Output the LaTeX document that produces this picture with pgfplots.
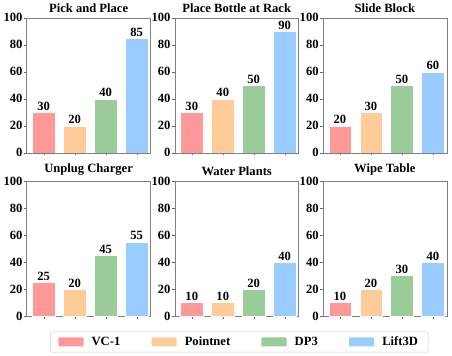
\documentclass[border=0pt]{standalone}
\usepackage{fontspec}
\setmainfont{Liberation Serif}
\usepackage{pgfplots}
\pgfplotsset{compat=1.18}
\usepgfplotslibrary{groupplots}

\definecolor{cvc}{RGB}{255,153,153}
\definecolor{cpn}{RGB}{255,204,153}
\definecolor{cdp}{RGB}{153,204,153}
\definecolor{clift}{RGB}{153,204,255}

\pgfplotsset{
  panel/.style={
    scale only axis, width=123pt, height=134pt,
    xmin=-0.55, xmax=3.45, ymin=0, ymax=100,
    ytick={0,20,...,100}, xtick={0,1,2,3}, xticklabels={},
    tick align=outside, major tick length=2.5pt,
    xtick pos=bottom, ytick pos=left,
    axis line style={gray}, tick style={gray!80!black},
    /pgf/number format/assume math mode=true,
    ticklabel style={font=\fontsize{12.5}{12}\selectfont\bfseries},
    yticklabel style={inner xsep=1.5pt},
    title style={font=\fontsize{12.5}{12}\selectfont\bfseries, yshift=-4pt},
    ybar, bar width=0.72, bar shift=0pt,
    every axis plot/.append style={draw=white, line width=0.4pt},
    every axis plot post/.append style={legend image code/.code={\fill[##1,draw=none] (0pt,-4.5pt) rectangle (25pt,4.5pt);}},
    nodes near coords,
    nodes near coords style={font=\fontsize{12.5}{12}\selectfont\bfseries, text=black, inner sep=1.5pt},
  },
}

\begin{document}
\begin{tikzpicture}
\begin{groupplot}[group style={group size=3 by 2, horizontal sep=24pt, vertical sep=28pt}, panel]
\nextgroupplot[title={Pick and Place}]
\addplot[fill=cvc] coordinates {(0,30)};
\addplot[fill=cpn] coordinates {(1,20)};
\addplot[fill=cdp] coordinates {(2,40)};
\addplot[fill=clift] coordinates {(3,85)};
\nextgroupplot[title={Place Bottle at Rack}]
\addplot[fill=cvc] coordinates {(0,30)};
\addplot[fill=cpn] coordinates {(1,40)};
\addplot[fill=cdp] coordinates {(2,50)};
\addplot[fill=clift] coordinates {(3,90)};
\nextgroupplot[title={Slide Block}]
\addplot[fill=cvc] coordinates {(0,20)};
\addplot[fill=cpn] coordinates {(1,30)};
\addplot[fill=cdp] coordinates {(2,50)};
\addplot[fill=clift] coordinates {(3,60)};
\nextgroupplot[title={Unplug Charger}]
\addplot[fill=cvc] coordinates {(0,25)};
\addplot[fill=cpn] coordinates {(1,20)};
\addplot[fill=cdp] coordinates {(2,45)};
\addplot[fill=clift] coordinates {(3,55)};
\nextgroupplot[title={Water Plants},
  legend columns=4,
  legend style={at={(0.52,-0.115)}, anchor=north, draw=gray!40, rounded corners=1pt,
    font=\fontsize{12.5}{12}\selectfont\bfseries, inner xsep=8pt, inner ysep=3pt,
    /tikz/every odd column/.append style={column sep=6pt},
    /tikz/every even column/.append style={column sep=29pt}},
  legend cell align=left]
\addplot[fill=cvc] coordinates {(0,10)};
\addplot[fill=cpn] coordinates {(1,10)};
\addplot[fill=cdp] coordinates {(2,20)};
\addplot[fill=clift] coordinates {(3,40)};
\legend{VC-1, Pointnet, DP3, Lift3D}
\nextgroupplot[title={Wipe Table}]
\addplot[fill=cvc] coordinates {(0,10)};
\addplot[fill=cpn] coordinates {(1,20)};
\addplot[fill=cdp] coordinates {(2,30)};
\addplot[fill=clift] coordinates {(3,40)};
\end{groupplot}
\path ([shift={(5pt,-3pt)}]current bounding box.south east);
\path ([shift={(-2pt,0pt)}]current bounding box.north west);
\end{tikzpicture}
\end{document}
